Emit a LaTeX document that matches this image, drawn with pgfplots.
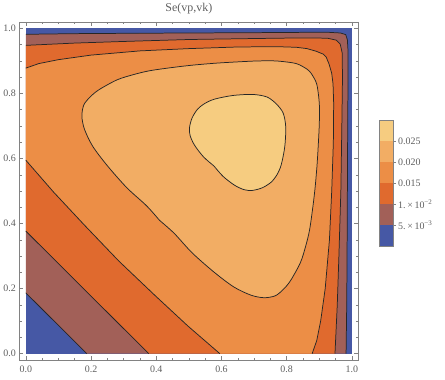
\documentclass[border=0pt]{standalone}
\usepackage{fontspec}
\setmainfont{Liberation Serif}
\usepackage{pgfplots}
\pgfplotsset{compat=1.18}

\definecolor{cA}{RGB}{70,88,165}
\definecolor{cB}{RGB}{162,96,88}
\definecolor{cC}{RGB}{224,106,46}
\definecolor{cD}{RGB}{236,142,70}
\definecolor{cE}{RGB}{242,173,100}
\definecolor{cF}{RGB}{246,204,128}
\definecolor{txt}{RGB}{95,95,95}
\definecolor{frm}{RGB}{130,130,130}

\tikzset{cline/.style={black!85, line width=0.75pt}}

\begin{document}
\begin{tikzpicture}
\path (0,0) rectangle (445pt,376pt);

\begin{axis}[
  at={(17pt,19pt)}, anchor=south west,
  scale only axis, width=341pt, height=340pt,
  xmin=-0.02, xmax=1.02, ymin=-0.02, ymax=1.02,
  axis on top,
  xtick={0,0.2,0.4,0.6,0.8,1}, ytick={0,0.2,0.4,0.6,0.8,1},
  xticklabels={0.0,0.2,0.4,0.6,0.8,1.0},
  yticklabels={0.0,0.2,0.4,0.6,0.8,1.0},
  minor tick num=3,
  tick align=inside,
  major tick length=4pt, minor tick length=2.3pt,
  axis line style={frm, line width=0.5pt},
  tick style={frm, line width=0.5pt},
  tick label style={font=\fontsize{10}{10}\selectfont, text=txt},
  xticklabel style={yshift=-2.7pt},
  title={Se(vp,vk)},
  title style={font=\fontsize{12}{12}\selectfont, text=txt,
    at={(0.5,1)}, anchor=base, yshift=4.4pt},
]
% background level (< 0.005)
\addplot[draw=none, fill=cA] coordinates {(0,0) (1,0) (1,1) (0,1)};
% > 0.005
\addplot[draw=none, fill=cB] coordinates {
  (0.187,0) (0,0.187)
  (0,0.982) (0.15,0.984) (0.3,0.985) (0.5,0.986) (0.7,0.987) (0.85,0.988) (0.93,0.988)
  (0.965,0.986) (0.981,0.981) (0.986,0.965)
  (0.988,0.93) (0.988,0.85) (0.987,0.7) (0.986,0.5) (0.985,0.3) (0.984,0.15) (0.982,0)};
% > 0.010
\addplot[draw=none, fill=cC] coordinates {
  (0.377,0) (0,0.377)
  (0,0.948) (0.15,0.955) (0.3,0.96) (0.5,0.966) (0.7,0.969) (0.85,0.971) (0.925,0.97)
  (0.952,0.964) (0.964,0.952)
  (0.97,0.925) (0.971,0.85) (0.969,0.7) (0.966,0.5) (0.96,0.3) (0.955,0.15) (0.948,0)};
% > 0.015
\addplot[draw=none, fill=cD] coordinates {
  (0.595,0) (0.497,0.085) (0.395,0.18) (0.285,0.285) (0.18,0.395) (0.085,0.497) (0,0.595)
  (0,0.878) (0.04,0.892) (0.1,0.904) (0.2,0.918) (0.35,0.931) (0.5,0.938) (0.65,0.943)
  (0.77,0.944) (0.83,0.942) (0.862,0.938) (0.89,0.93) (0.912,0.921)
  (0.921,0.912) (0.93,0.89) (0.938,0.862) (0.942,0.83) (0.944,0.77) (0.943,0.65)
  (0.938,0.5) (0.931,0.35) (0.918,0.2) (0.904,0.1) (0.892,0.04) (0.878,0)};
% > 0.020
\addplot[smooth, cline, fill=cE] coordinates {
  (0.41,0.41) (0.37,0.455) (0.31,0.51) (0.25,0.578) (0.205,0.638) (0.18,0.69) (0.172,0.73)
  (0.178,0.765) (0.198,0.79) (0.225,0.812) (0.28,0.842) (0.33,0.858) (0.38,0.870)
  (0.45,0.88) (0.51,0.887) (0.58,0.893) (0.646,0.897) (0.71,0.9) (0.768,0.9) (0.829,0.892)
  (0.862,0.875) (0.869,0.869)
  (0.875,0.862) (0.892,0.829) (0.9,0.768) (0.9,0.71) (0.897,0.646) (0.893,0.58) (0.887,0.51)
  (0.88,0.45) (0.870,0.38) (0.858,0.33) (0.842,0.28) (0.812,0.225) (0.79,0.198) (0.765,0.178)
  (0.73,0.172) (0.69,0.18) (0.638,0.205) (0.578,0.25) (0.51,0.31) (0.455,0.37) (0.41,0.41)};
% > 0.025
\addplot[smooth, cline, fill=cF] coordinates {
  (0.577,0.577) (0.545,0.605) (0.518,0.64) (0.504,0.67) (0.502,0.695) (0.51,0.725)
  (0.527,0.752) (0.55,0.77) (0.58,0.783) (0.636,0.794) (0.697,0.797) (0.74,0.789) (0.768,0.768)
  (0.789,0.74) (0.797,0.697) (0.794,0.636) (0.783,0.58) (0.77,0.55) (0.752,0.527)
  (0.725,0.51) (0.695,0.502) (0.67,0.504) (0.64,0.518) (0.605,0.545) (0.577,0.577)};

% contour lines
\addplot[cline] coordinates {(0.187,0) (0,0.187)};
\addplot[cline] coordinates {
  (0,0.982) (0.15,0.984) (0.3,0.985) (0.5,0.986) (0.7,0.987) (0.85,0.988) (0.93,0.988)
  (0.965,0.986) (0.981,0.981) (0.986,0.965)
  (0.988,0.93) (0.988,0.85) (0.987,0.7) (0.986,0.5) (0.985,0.3) (0.984,0.15) (0.982,0)};
\addplot[cline] coordinates {(0.377,0) (0,0.377)};
\addplot[cline] coordinates {
  (0,0.948) (0.15,0.955) (0.3,0.96) (0.5,0.966) (0.7,0.969) (0.85,0.971) (0.925,0.97)
  (0.952,0.964) (0.964,0.952)
  (0.97,0.925) (0.971,0.85) (0.969,0.7) (0.966,0.5) (0.96,0.3) (0.955,0.15) (0.948,0)};
\addplot[cline] coordinates {
  (0.595,0) (0.497,0.085) (0.395,0.18) (0.285,0.285) (0.18,0.395) (0.085,0.497) (0,0.595)};
\addplot[cline] coordinates {
  (0,0.878) (0.04,0.892) (0.1,0.904) (0.2,0.918) (0.35,0.931) (0.5,0.938) (0.65,0.943)
  (0.77,0.944) (0.83,0.942) (0.862,0.938) (0.89,0.93) (0.912,0.921)
  (0.921,0.912) (0.93,0.89) (0.938,0.862) (0.942,0.83) (0.944,0.77) (0.943,0.65)
  (0.938,0.5) (0.931,0.35) (0.918,0.2) (0.904,0.1) (0.892,0.04) (0.878,0)};
\end{axis}

% colour bar
\begin{axis}[
  at={(379.3pt,133.3pt)}, anchor=south west,
  scale only axis, width=13.4pt, height=127pt,
  xmin=0, xmax=1, ymin=0, ymax=0.03,
  axis on top,
  xtick=\empty,
  ytick={0.005,0.01,0.015,0.02,0.025},
  yticklabels={5.\,×\,10\textsuperscript{−3},1.\,×\,10\textsuperscript{−2},0.015,0.020,0.025},
  scaled y ticks=false,
  ytick pos=right, yticklabel pos=right,
  tick align=outside, major tick length=3pt,
  axis line style={frm, line width=0.5pt},
  tick style={frm, line width=0.5pt},
  tick label style={font=\fontsize{10}{10}\selectfont, text=txt, inner sep=2pt},
]
\addplot[draw=none, fill=cA] coordinates {(0,0) (1,0) (1,0.005) (0,0.005)};
\addplot[draw=none, fill=cB] coordinates {(0,0.005) (1,0.005) (1,0.01) (0,0.01)};
\addplot[draw=none, fill=cC] coordinates {(0,0.01) (1,0.01) (1,0.015) (0,0.015)};
\addplot[draw=none, fill=cD] coordinates {(0,0.015) (1,0.015) (1,0.02) (0,0.02)};
\addplot[draw=none, fill=cE] coordinates {(0,0.02) (1,0.02) (1,0.025) (0,0.025)};
\addplot[draw=none, fill=cF] coordinates {(0,0.025) (1,0.025) (1,0.03) (0,0.03)};
\end{axis}
\end{tikzpicture}
\end{document}
